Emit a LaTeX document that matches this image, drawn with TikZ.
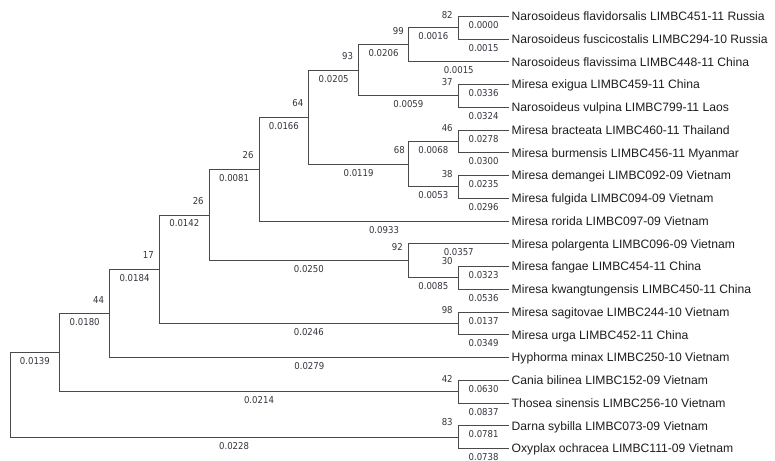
\documentclass[tikz,border=0pt]{standalone}
\usepackage{fontspec}
\setmainfont{Liberation Sans}
\newfontfamily\numfont[FakeStretch=0.9]{DejaVu Sans}
\definecolor{linec}{HTML}{4A4A4A}
\definecolor{numc}{HTML}{33333D}
\definecolor{leafc}{HTML}{1E1E1E}
\begin{document}
\begin{tikzpicture}[x=1pt,y=-1pt,
  br/.style={draw=linec, line width=0.9pt},
  bl/.style={font=\numfont\fontsize{9.5}{10}\selectfont, text=numc, inner sep=0pt, pos=0.75, yshift=-8.5pt},
  bs/.style={font=\numfont\fontsize{9.5}{10}\selectfont, text=numc, inner sep=0pt},
  leaf/.style={font=\fontsize{12.15}{14}\selectfont, text=leafc, anchor=west, inner xsep=2.5pt, inner ysep=0pt, text height=8.8pt, text depth=0pt}]
\useasboundingbox (0,0) rectangle (775,460);
% leaves
\node[leaf] (t1)  at (509,16.3)   {Narosoideus flavidorsalis LIMBC451-11 Russia};
\node[leaf] (t2)  at (509,39.05)  {Narosoideus fuscicostalis LIMBC294-10 Russia};
\node[leaf] (t3)  at (509,61.8)   {Narosoideus flavissima LIMBC448-11 China};
\node[leaf] (t4)  at (509,84.55)  {Miresa exigua LIMBC459-11 China};
\node[leaf] (t5)  at (509,107.3)  {Narosoideus vulpina LIMBC799-11 Laos};
\node[leaf] (t6)  at (509,130.05) {Miresa bracteata LIMBC460-11 Thailand};
\node[leaf] (t7)  at (509,152.8)  {Miresa burmensis LIMBC456-11 Myanmar};
\node[leaf] (t8)  at (509,175.55) {Miresa demangei LIMBC092-09 Vietnam};
\node[leaf] (t9)  at (509,198.3)  {Miresa fulgida LIMBC094-09 Vietnam};
\node[leaf] (t10) at (509,221.05) {Miresa rorida LIMBC097-09 Vietnam};
\node[leaf] (t11) at (509,243.8)  {Miresa polargenta LIMBC096-09 Vietnam};
\node[leaf] (t12) at (509,266.55) {Miresa fangae LIMBC454-11 China};
\node[leaf] (t13) at (509,289.3)  {Miresa kwangtungensis LIMBC450-11 China};
\node[leaf] (t14) at (509,312.05) {Miresa sagitovae LIMBC244-10 Vietnam};
\node[leaf] (t15) at (509,334.8)  {Miresa urga LIMBC452-11 China};
\node[leaf] (t16) at (509,357.55) {Hyphorma minax LIMBC250-10 Vietnam};
\node[leaf] (t17) at (509,380.3)  {Cania bilinea LIMBC152-09 Vietnam};
\node[leaf] (t18) at (509,403.05) {Thosea sinensis LIMBC256-10 Vietnam};
\node[leaf] (t19) at (509,425.8)  {Darna sybilla LIMBC073-09 Vietnam};
\node[leaf] (t20) at (509,448.55) {Oxyplax ochracea LIMBC111-09 Vietnam};
% internal nodes
\coordinate (A) at (458.2,27.7);
\coordinate (B) at (408.4,44.7);
\coordinate (D) at (458.2,95.9);
\coordinate (C) at (358.6,70.3);
\coordinate (G) at (458.2,141.4);
\coordinate (H) at (458.2,186.9);
\coordinate (F) at (408.4,164.2);
\coordinate (E) at (308.8,117.2);
\coordinate (I) at (259.0,169.1);
\coordinate (L) at (458.2,277.9);
\coordinate (K) at (408.4,260.9);
\coordinate (J) at (209.2,215.0);
\coordinate (N) at (458.2,323.4);
\coordinate (M) at (159.4,269.2);
\coordinate (O) at (109.6,313.4);
\coordinate (Q) at (458.2,391.7);
\coordinate (P) at (59.8,352.5);
\coordinate (S) at (458.2,437.2);
\coordinate (R) at (10.0,394.9);
% branches
\draw[br] (A) |- node[bl]{0.0000} (t1.west);
\draw[br] (A) |- node[bl]{0.0015} (t2.west);
\draw[br] (B) |- node[bl]{0.0016} (A);
\draw[br] (B) |- node[bl]{0.0015} (t3.west);
\draw[br] (C) |- node[bl]{0.0206} (B);
\draw[br] (C) |- node[bl]{0.0059} (D);
\draw[br] (D) |- node[bl]{0.0336} (t4.west);
\draw[br] (D) |- node[bl]{0.0324} (t5.west);
\draw[br] (E) |- node[bl]{0.0205} (C);
\draw[br] (E) |- node[bl]{0.0119} (F);
\draw[br] (F) |- node[bl]{0.0068} (G);
\draw[br] (F) |- node[bl]{0.0053} (H);
\draw[br] (G) |- node[bl]{0.0278} (t6.west);
\draw[br] (G) |- node[bl]{0.0300} (t7.west);
\draw[br] (H) |- node[bl]{0.0235} (t8.west);
\draw[br] (H) |- node[bl]{0.0296} (t9.west);
\draw[br] (I) |- node[bl]{0.0166} (E);
\draw[br] (I) |- node[bl]{0.0933} (t10.west);
\draw[br] (J) |- node[bl]{0.0081} (I);
\draw[br] (J) |- node[bl]{0.0250} (K);
\draw[br] (K) |- node[bl]{0.0357} (t11.west);
\draw[br] (K) |- node[bl]{0.0085} (L);
\draw[br] (L) |- node[bl]{0.0323} (t12.west);
\draw[br] (L) |- node[bl]{0.0536} (t13.west);
\draw[br] (M) |- node[bl]{0.0142} (J);
\draw[br] (M) |- node[bl]{0.0246} (N);
\draw[br] (N) |- node[bl]{0.0137} (t14.west);
\draw[br] (N) |- node[bl]{0.0349} (t15.west);
\draw[br] (O) |- node[bl]{0.0184} (M);
\draw[br] (O) |- node[bl]{0.0279} (t16.west);
\draw[br] (P) |- node[bl]{0.0180} (O);
\draw[br] (P) |- node[bl]{0.0214} (Q);
\draw[br] (Q) |- node[bl]{0.0630} (t17.west);
\draw[br] (Q) |- node[bl]{0.0837} (t18.west);
\draw[br] (R) |- node[bl]{0.0139} (P);
\draw[br] (R) |- node[bl]{0.0228} (S);
\draw[br] (S) |- node[bl]{0.0781} (t19.west);
\draw[br] (S) |- node[bl]{0.0738} (t20.west);
% bootstrap values
\node[bs] (bA) at ([shift={(-11,-13)}]A) {82};
\node[bs] (bB) at ([shift={(-10,-14)}]B) {99};
\node[bs] (bC) at ([shift={(-11,-14)}]C) {93};
\node[bs] (bD) at ([shift={(-11,-14)}]D) {37};
\node[bs] (bE) at ([shift={(-11,-14)}]E) {64};
\node[bs] (bF) at ([shift={(-9,-14)}]F) {68};
\node[bs] (bG) at ([shift={(-11,-13)}]G) {46};
\node[bs] (bH) at ([shift={(-11,-13)}]H) {38};
\node[bs] (bI) at ([shift={(-11,-14)}]I) {26};
\node[bs] (bJ) at ([shift={(-11,-14)}]J) {26};
\node[bs] (bK) at ([shift={(-11,-14)}]K) {92};
\node[bs] (bL) at ([shift={(-11,-17)}]L) {30};
\node[bs] (bM) at ([shift={(-11,-14)}]M) {17};
\node[bs] (bN) at ([shift={(-11,-13.5)}]N) {98};
\node[bs] (bO) at ([shift={(-11,-13.5)}]O) {44};
\node[bs] (bQ) at ([shift={(-11,-13)}]Q) {42};
\node[bs] (bS) at ([shift={(-11,-15)}]S) {83};
\end{tikzpicture}
\end{document}
